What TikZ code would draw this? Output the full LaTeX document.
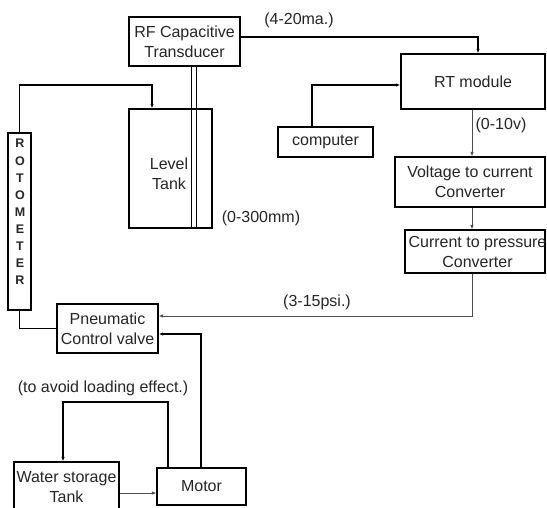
\documentclass[tikz,border=0pt]{standalone}
\usepackage{fontspec}
\setmainfont{Liberation Sans}
\usetikzlibrary{arrows.meta}
\begin{document}
\begin{tikzpicture}[x=1pt,y=-1pt,
 box/.style={draw=black, line width=1.3pt, inner sep=0pt, align=center, font=\fontsize{16}{20}\selectfont, text=black!85},
 thk/.style={draw=black, line width=1.3pt},
 thn/.style={draw=black!70, line width=0.8pt},
 arr/.style={-{Latex[length=4.5pt,width=3.5pt]}},
 lbl/.style={font=\fontsize{16}{20}\selectfont, text=black!85, inner sep=0pt, align=center}
]
\useasboundingbox (0,0) rectangle (547,508);
\clip (0,0) rectangle (547,508);
\fill[white] (0,0) rectangle (547,508);

% boxes
\node[box, minimum width=111pt, minimum height=49pt] (rf) at (184.5,41.5) {RF Capacitive\\Transducer};
\node[box, minimum width=83pt, minimum height=119pt] (tank) at (170.5,168.5) {};
\node[lbl] (tanktext) at (169,174) {Level\\Tank};
\node[box, minimum width=144pt, minimum height=55pt] (rt) at (473,81.5) {RT module};
\node[box, minimum width=95pt, minimum height=30pt] (comp) at (325.5,142) {computer};
\node[box, minimum width=150pt, minimum height=50pt] (v2c) at (470,182) {Voltage to current\\Converter};
\node[box, minimum width=140pt, minimum height=43pt] (c2p) at (475,251.5) {};
\node[lbl] (c2ptext) at (477.5,252) {Current to pressure\\Converter};
\node[box, minimum width=23pt, minimum height=177pt] (rot) at (19.5,221.5) {};
\node[font=\fontsize{12.5}{17.1}\selectfont\bfseries, text=black!85, inner sep=0pt, align=center] (rottext) at (20,212)
  {R\\O\\T\\O\\M\\E\\T\\E\\R};
\node[box, minimum width=101pt, minimum height=49pt] (pcv) at (107.5,328.5) {Pneumatic\\Control valve};
\node[box, minimum width=105pt, minimum height=60pt] (wst) at (66.5,492) {};
\node[lbl] (wsttext) at (66.5,487.5) {Water storage\\Tank};
\node[box, minimum width=89pt, minimum height=37pt] (motor) at (201.5,486.5) {Motor};

% labels
\node[lbl] (l420) at (299,20) {(4-20ma.)};
\node[lbl] (l010) at (501,125) {(0-10v)};
\node[lbl] (l300) at (261,218) {(0-300mm)};
\node[lbl] (l315) at (317,302) {(3-15psi.)};
\node[lbl] (lavoid) at (103,388) {(to avoid loading effect.)};

% connectors
\draw[thk,arr] ([yshift=4.5pt]rf.east) -| ([xshift=5pt]rt.north);
\draw[thk,arr] ([xshift=-13.5pt]comp.north) |- ([yshift=-3.5pt]rt.west);
\draw[thn,arr] ([xshift=-1pt]rt.south) -- ([xshift=-1pt]rt.south |- v2c.north);
\draw[thn,arr] ([xshift=2pt]v2c.south) -- ([xshift=2pt]v2c.south |- c2p.north);
\draw[thn,arr] ([xshift=-3pt]c2p.south) |- ([yshift=12.5pt]pcv.east);
\draw[thk,arr] ([xshift=-0.5pt]motor.north) |- ([yshift=-5.5pt]pcv.east);
\coordinate (rtop) at (152,85);
\draw[thk,arr] (rot.north) |- (rtop) -- (rtop |- tank.north);
\draw[thk] (rot.south) |- (pcv.west);
\coordinate (loopc) at (63,402);
\draw[thk,arr] ([xshift=-33.5pt]motor.north) |- (loopc) -- (loopc |- wst.north);
\coordinate (wm) at (0,493);
\draw[thn,arr] (wst.east |- wm) -- (motor.west |- wm);
\draw[thk,line width=1pt] ([xshift=6.5pt]rf.south) -- ([xshift=6.5pt]rf.south |- tank.south);
\draw[thk,line width=1pt] ([xshift=11.5pt]rf.south) -- ([xshift=11.5pt]rf.south |- tank.south);
\end{tikzpicture}
\end{document}
